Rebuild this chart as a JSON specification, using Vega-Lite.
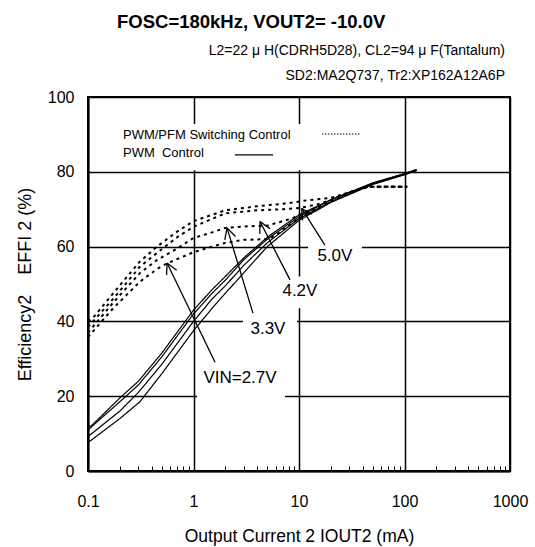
{
  "$schema": "https://vega.github.io/schema/vega-lite/v6.json",
  "width": 422,
  "height": 374,
  "autosize": {"type": "none"},
  "padding": {"left": 88, "top": 97, "right": 25, "bottom": 76},
  "background": "white",
  "config": {
    "font": "Liberation Sans",
    "view": {"stroke": "black", "strokeWidth": 2},
    "axis": {"labelColor": "black", "titleColor": "black", "titleFontWeight": "normal", "labelFont": "Liberation Sans", "titleFont": "Liberation Sans"}
  },
  "title": {"text": "FOSC=180kHz, VOUT2= -10.0V", "anchor": "start", "frame": "group", "dx": 29, "dy": 21, "fontSize": 18.5, "fontWeight": "bold", "color": "black", "font": "Liberation Sans", "baseline": "alphabetic", "offset": 18},
  "datasets": {
    "curves": [
      {"curve": "S1", "mode": "PWM", "x": 0.1, "y": 12}, {"curve": "S1", "mode": "PWM", "x": 0.107, "y": 12}, {"curve": "S1", "mode": "PWM", "x": 0.2, "y": 19.5}, {"curve": "S1", "mode": "PWM", "x": 0.3, "y": 24}, {"curve": "S1", "mode": "PWM", "x": 0.5, "y": 31.5}, {"curve": "S1", "mode": "PWM", "x": 1, "y": 43}, {"curve": "S1", "mode": "PWM", "x": 1.5, "y": 48.5}, {"curve": "S1", "mode": "PWM", "x": 2, "y": 52}, {"curve": "S1", "mode": "PWM", "x": 3, "y": 57}, {"curve": "S1", "mode": "PWM", "x": 5, "y": 62.5}, {"curve": "S1", "mode": "PWM", "x": 10, "y": 68.5}, {"curve": "S1", "mode": "PWM", "x": 20, "y": 72.5}, {"curve": "S1", "mode": "PWM", "x": 50, "y": 77}, {"curve": "S1", "mode": "PWM", "x": 100, "y": 79.5}, {"curve": "S1", "mode": "PWM", "x": 130, "y": 80.6},
      {"curve": "S2", "mode": "PWM", "x": 0.1, "y": 11}, {"curve": "S2", "mode": "PWM", "x": 0.2, "y": 18.5}, {"curve": "S2", "mode": "PWM", "x": 0.3, "y": 23}, {"curve": "S2", "mode": "PWM", "x": 0.5, "y": 30.5}, {"curve": "S2", "mode": "PWM", "x": 1, "y": 42}, {"curve": "S2", "mode": "PWM", "x": 1.5, "y": 47.5}, {"curve": "S2", "mode": "PWM", "x": 2, "y": 51}, {"curve": "S2", "mode": "PWM", "x": 3, "y": 56.5}, {"curve": "S2", "mode": "PWM", "x": 5, "y": 62}, {"curve": "S2", "mode": "PWM", "x": 10, "y": 68}, {"curve": "S2", "mode": "PWM", "x": 20, "y": 72.5}, {"curve": "S2", "mode": "PWM", "x": 50, "y": 77}, {"curve": "S2", "mode": "PWM", "x": 100, "y": 79.5}, {"curve": "S2", "mode": "PWM", "x": 130, "y": 80.6},
      {"curve": "S3", "mode": "PWM", "x": 0.1, "y": 9.2}, {"curve": "S3", "mode": "PWM", "x": 0.2, "y": 16}, {"curve": "S3", "mode": "PWM", "x": 0.3, "y": 21}, {"curve": "S3", "mode": "PWM", "x": 0.5, "y": 28.5}, {"curve": "S3", "mode": "PWM", "x": 1, "y": 40}, {"curve": "S3", "mode": "PWM", "x": 1.5, "y": 46}, {"curve": "S3", "mode": "PWM", "x": 2, "y": 49.5}, {"curve": "S3", "mode": "PWM", "x": 3, "y": 55}, {"curve": "S3", "mode": "PWM", "x": 5, "y": 61}, {"curve": "S3", "mode": "PWM", "x": 10, "y": 67.5}, {"curve": "S3", "mode": "PWM", "x": 20, "y": 72}, {"curve": "S3", "mode": "PWM", "x": 50, "y": 76.8}, {"curve": "S3", "mode": "PWM", "x": 100, "y": 79.3}, {"curve": "S3", "mode": "PWM", "x": 130, "y": 80.4},
      {"curve": "S4", "mode": "PWM", "x": 0.1, "y": 7.6}, {"curve": "S4", "mode": "PWM", "x": 0.2, "y": 14}, {"curve": "S4", "mode": "PWM", "x": 0.31, "y": 18.5}, {"curve": "S4", "mode": "PWM", "x": 0.5, "y": 26}, {"curve": "S4", "mode": "PWM", "x": 1, "y": 37.5}, {"curve": "S4", "mode": "PWM", "x": 1.5, "y": 43.5}, {"curve": "S4", "mode": "PWM", "x": 2, "y": 47.5}, {"curve": "S4", "mode": "PWM", "x": 3, "y": 53}, {"curve": "S4", "mode": "PWM", "x": 5, "y": 60}, {"curve": "S4", "mode": "PWM", "x": 10, "y": 67}, {"curve": "S4", "mode": "PWM", "x": 20, "y": 71.8}, {"curve": "S4", "mode": "PWM", "x": 50, "y": 76.6}, {"curve": "S4", "mode": "PWM", "x": 100, "y": 79.2}, {"curve": "S4", "mode": "PWM", "x": 130, "y": 80.3},
      {"curve": "T1", "mode": "PWM/PFM", "x": 0.1, "y": 40}, {"curve": "T1", "mode": "PWM/PFM", "x": 0.112, "y": 41}, {"curve": "T1", "mode": "PWM/PFM", "x": 0.173, "y": 47.5}, {"curve": "T1", "mode": "PWM/PFM", "x": 0.31, "y": 56}, {"curve": "T1", "mode": "PWM/PFM", "x": 0.45, "y": 60}, {"curve": "T1", "mode": "PWM/PFM", "x": 0.7, "y": 64}, {"curve": "T1", "mode": "PWM/PFM", "x": 1, "y": 66.8}, {"curve": "T1", "mode": "PWM/PFM", "x": 1.5, "y": 68.5}, {"curve": "T1", "mode": "PWM/PFM", "x": 2, "y": 69.7}, {"curve": "T1", "mode": "PWM/PFM", "x": 4, "y": 70.8}, {"curve": "T1", "mode": "PWM/PFM", "x": 8, "y": 71.6}, {"curve": "T1", "mode": "PWM/PFM", "x": 12, "y": 72.4}, {"curve": "T1", "mode": "PWM/PFM", "x": 20, "y": 73}, {"curve": "T1", "mode": "PWM/PFM", "x": 30, "y": 74.5}, {"curve": "T1", "mode": "PWM/PFM", "x": 45, "y": 76}, {"curve": "T1", "mode": "PWM/PFM", "x": 106, "y": 76},
      {"curve": "T2", "mode": "PWM/PFM", "x": 0.1, "y": 38.5}, {"curve": "T2", "mode": "PWM/PFM", "x": 0.173, "y": 46}, {"curve": "T2", "mode": "PWM/PFM", "x": 0.31, "y": 54.6}, {"curve": "T2", "mode": "PWM/PFM", "x": 0.45, "y": 58.3}, {"curve": "T2", "mode": "PWM/PFM", "x": 0.7, "y": 62.5}, {"curve": "T2", "mode": "PWM/PFM", "x": 1, "y": 65.3}, {"curve": "T2", "mode": "PWM/PFM", "x": 2, "y": 68.9}, {"curve": "T2", "mode": "PWM/PFM", "x": 4, "y": 69.7}, {"curve": "T2", "mode": "PWM/PFM", "x": 7, "y": 70}, {"curve": "T2", "mode": "PWM/PFM", "x": 10, "y": 70.3}, {"curve": "T2", "mode": "PWM/PFM", "x": 15, "y": 71.3}, {"curve": "T2", "mode": "PWM/PFM", "x": 20, "y": 72.5}, {"curve": "T2", "mode": "PWM/PFM", "x": 30, "y": 74.5}, {"curve": "T2", "mode": "PWM/PFM", "x": 45, "y": 76}, {"curve": "T2", "mode": "PWM/PFM", "x": 106, "y": 76},
      {"curve": "T3", "mode": "PWM/PFM", "x": 0.1, "y": 37}, {"curve": "T3", "mode": "PWM/PFM", "x": 0.173, "y": 45}, {"curve": "T3", "mode": "PWM/PFM", "x": 0.31, "y": 52.9}, {"curve": "T3", "mode": "PWM/PFM", "x": 0.45, "y": 56.4}, {"curve": "T3", "mode": "PWM/PFM", "x": 0.7, "y": 59.5}, {"curve": "T3", "mode": "PWM/PFM", "x": 1, "y": 62.3}, {"curve": "T3", "mode": "PWM/PFM", "x": 1.5, "y": 63.8}, {"curve": "T3", "mode": "PWM/PFM", "x": 2, "y": 65}, {"curve": "T3", "mode": "PWM/PFM", "x": 3, "y": 65.4}, {"curve": "T3", "mode": "PWM/PFM", "x": 5, "y": 65.6}, {"curve": "T3", "mode": "PWM/PFM", "x": 7, "y": 66.8}, {"curve": "T3", "mode": "PWM/PFM", "x": 8.5, "y": 67.5}, {"curve": "T3", "mode": "PWM/PFM", "x": 10, "y": 68.3}, {"curve": "T3", "mode": "PWM/PFM", "x": 20, "y": 72.2}, {"curve": "T3", "mode": "PWM/PFM", "x": 30, "y": 74.5}, {"curve": "T3", "mode": "PWM/PFM", "x": 45, "y": 76}, {"curve": "T3", "mode": "PWM/PFM", "x": 106, "y": 76},
      {"curve": "T4", "mode": "PWM/PFM", "x": 0.1, "y": 35.8}, {"curve": "T4", "mode": "PWM/PFM", "x": 0.173, "y": 43.5}, {"curve": "T4", "mode": "PWM/PFM", "x": 0.31, "y": 50.6}, {"curve": "T4", "mode": "PWM/PFM", "x": 0.45, "y": 54}, {"curve": "T4", "mode": "PWM/PFM", "x": 0.56, "y": 55.5}, {"curve": "T4", "mode": "PWM/PFM", "x": 1, "y": 58.5}, {"curve": "T4", "mode": "PWM/PFM", "x": 1.5, "y": 60}, {"curve": "T4", "mode": "PWM/PFM", "x": 2, "y": 61}, {"curve": "T4", "mode": "PWM/PFM", "x": 3, "y": 61.8}, {"curve": "T4", "mode": "PWM/PFM", "x": 5, "y": 62}, {"curve": "T4", "mode": "PWM/PFM", "x": 5.6, "y": 62.5}, {"curve": "T4", "mode": "PWM/PFM", "x": 10, "y": 67.5}, {"curve": "T4", "mode": "PWM/PFM", "x": 20, "y": 72}, {"curve": "T4", "mode": "PWM/PFM", "x": 30, "y": 74.5}, {"curve": "T4", "mode": "PWM/PFM", "x": 45, "y": 76}, {"curve": "T4", "mode": "PWM/PFM", "x": 106, "y": 76}
    ],
    "boxes": [
      {"x": 0.16, "x2": 47, "y": 80.4, "y2": 92.8},
      {"x": 12.2, "x2": 39.5, "y": 54.3, "y2": 60.6},
      {"x": 5.79, "x2": 18, "y": 43.5, "y2": 52},
      {"x": 2.94, "x2": 9.57, "y": 34.5, "y2": 42.5},
      {"x": 1.08, "x2": 7.36, "y": 18.5, "y2": 29.1}
    ],
    "arrows": [
      {"x": 1.6, "y": 29.1, "x2": 0.561, "y2": 55.6}, {"x": 0.561, "y": 55.6, "x2": 0.556, "y2": 52.4}, {"x": 0.561, "y": 55.6, "x2": 0.693, "y2": 53.7},
      {"x": 3.66, "y": 42.2, "x2": 2.08, "y2": 65.0}, {"x": 2.08, "y": 65.0, "x2": 1.98, "y2": 61.8}, {"x": 2.08, "y": 65.0, "x2": 2.5, "y2": 62.7},
      {"x": 8.22, "y": 51.1, "x2": 4.27, "y2": 66.7}, {"x": 4.27, "y": 66.7, "x2": 4.25, "y2": 63.4}, {"x": 4.27, "y": 66.7, "x2": 5.3, "y2": 64.8},
      {"x": 17.6, "y": 60.4, "x2": 10.6, "y2": 70.2}, {"x": 10.6, "y": 70.2, "x2": 10.8, "y2": 67.0}, {"x": 10.6, "y": 70.2, "x2": 13.3, "y2": 68.7}
    ],
    "labels": [
      {"x": 21.9, "y": 57.4, "label": "5.0V"},
      {"x": 10.2, "y": 48.1, "label": "4.2V"},
      {"x": 5.08, "y": 38.1, "label": "3.3V"},
      {"x": 2.76, "y": 25.0, "label": "VIN=2.7V"}
    ],
    "legendText": [
      {"x": 0.2145, "y": 89.8, "label": "PWM/PFM Switching Control"},
      {"x": 0.2145, "y": 85.0, "label": "PWM\u00a0 Control"}
    ],
    "legendDotted": [{"x": 16.5, "x2": 37.8, "y": 90.1, "y2": 90.1}],
    "legendSolid": [{"x": 2.47, "x2": 5.67, "y": 84.5, "y2": 84.5}],
    "notes": [
      {"x": 1000, "y": 112.4, "label": "L2=22 μ H(CDRH5D28), CL2=94 μ F(Tantalum)"},
      {"x": 1000, "y": 105.7, "label": "SD2:MA2Q737, Tr2:XP162A12A6P"}
    ]
  },
  "encoding": {
    "x": {
      "field": "x", "type": "quantitative",
      "scale": {"type": "log", "domain": [0.1, 1000], "nice": false},
      "axis": {
        "title": "Output Current 2 IOUT2 (mA)",
        "values": [0.1, 0.2, 0.3, 0.4, 0.5, 0.6, 0.7, 0.8, 0.9, 1, 2, 3, 4, 5, 6, 7, 8, 9, 10, 20, 30, 40, 50, 60, 70, 80, 90, 100, 200, 300, 400, 500, 600, 700, 800, 900, 1000],
        "format": "~g",
        "labelExpr": "indexof(['0.1','1','10','100','1000'], datum.label) >= 0 ? datum.label : ''",
        "grid": true, "gridColor": "black", "gridWidth": 1.5,
        "gridOpacity": {"condition": {"test": "indexof([0.1, 1, 10, 100, 1000], datum.value) >= 0", "value": 1}, "value": 0},
        "domainColor": "black", "domainWidth": 2,
        "tickColor": "black", "tickSize": -5, "tickWidth": 1,
        "labelFontSize": 16, "labelPadding": 27, "labelFlush": false, "labelOverlap": false,
        "titleFontSize": 17.5, "titlePadding": 18
      }
    },
    "y": {
      "field": "y", "type": "quantitative",
      "scale": {"domain": [0, 100], "nice": false},
      "axis": {
        "title": "Efficiency2\u00a0\u00a0\u00a0 EFFI 2 (%)",
        "values": [0, 20, 40, 60, 80, 100],
        "grid": true, "gridColor": "black", "gridWidth": 1.5,
        "domainColor": "black", "domainWidth": 2, "ticks": false,
        "labelFontSize": 16, "labelPadding": 14,
        "titleFontSize": 18, "titlePadding": 13
      }
    }
  },
  "layer": [
    {
      "data": {"name": "boxes"},
      "mark": {"type": "rect", "fill": "white", "strokeWidth": 0},
      "encoding": {"x2": {"field": "x2"}, "y2": {"field": "y2"}}
    },
    {
      "data": {"name": "curves"},
      "mark": {"type": "line", "color": "black"},
      "encoding": {
        "detail": {"field": "curve"},
        "strokeDash": {"field": "mode", "type": "nominal", "scale": {"domain": ["PWM", "PWM/PFM"], "range": [[1, 0], [3, 4]]}, "legend": null},
        "strokeWidth": {"field": "mode", "type": "nominal", "scale": {"domain": ["PWM", "PWM/PFM"], "range": [1.2, 2]}, "legend": null}
      }
    },
    {
      "data": {"name": "arrows"},
      "mark": {"type": "rule", "color": "black", "strokeWidth": 1.3},
      "encoding": {"x2": {"field": "x2"}, "y2": {"field": "y2"}}
    },
    {
      "data": {"name": "legendDotted"},
      "mark": {"type": "rule", "color": "black", "strokeWidth": 1, "strokeDash": [1.5, 1.5]},
      "encoding": {"x2": {"field": "x2"}, "y2": {"field": "y2"}}
    },
    {
      "data": {"name": "legendSolid"},
      "mark": {"type": "rule", "color": "black", "strokeWidth": 1.3},
      "encoding": {"x2": {"field": "x2"}, "y2": {"field": "y2"}}
    },
    {
      "data": {"name": "labels"},
      "mark": {"type": "text", "fontSize": 17, "align": "center", "baseline": "middle", "color": "black", "font": "Liberation Sans"},
      "encoding": {"text": {"field": "label"}}
    },
    {
      "data": {"name": "legendText"},
      "mark": {"type": "text", "fontSize": 13, "align": "left", "baseline": "middle", "color": "black", "font": "Liberation Sans"},
      "encoding": {"text": {"field": "label"}}
    },
    {
      "data": {"name": "notes"},
      "mark": {"type": "text", "fontSize": 14, "align": "right", "baseline": "middle", "dx": -5, "color": "black", "font": "Liberation Sans"},
      "encoding": {"text": {"field": "label"}}
    }
  ]
}
